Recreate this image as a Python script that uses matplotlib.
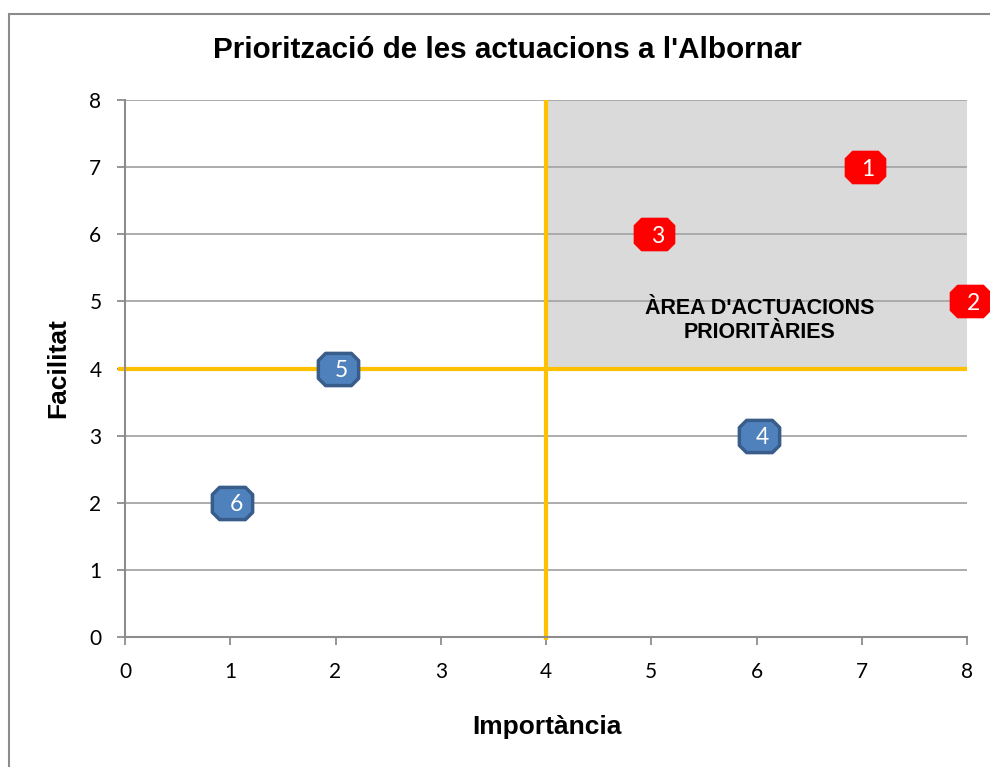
import matplotlib.pyplot as plt
from matplotlib.path import Path
from matplotlib.patches import Rectangle

# actuacions: (importància, facilitat)
labels = ["1", "2", "3", "4", "5", "6"]
importancia = [7, 8, 5, 6, 2, 1]
facilitat = [7, 5, 6, 3, 4, 2]
prioritaria = [True, True, True, False, False, False]

ticks = [0, 1, 2, 3, 4, 5, 6, 7, 8]
llindar = 4

fig = plt.figure(figsize=(9.9, 7.67), dpi=100)
ax = fig.add_axes([0.1263, 0.1695, 0.8505, 0.7001])

# outer chart border
fig.patches.append(Rectangle((9 / 990, -0.05), 1.1, 1 - 14 / 767 + 0.05,
                             transform=fig.transFigure, fill=False,
                             edgecolor="#8c8c8c", linewidth=1.5))

# priority area
ax.add_patch(Rectangle((llindar, llindar), 8 - llindar, 8 - llindar,
                       facecolor="#dadada", edgecolor="none", zorder=0.5))
ax.text(6.03, 4.72, "ÀREA D'ACTUACIONS\nPRIORITÀRIES", ha="center", va="center",
        fontsize=15.5, fontweight="bold", family="Liberation Sans",
        linespacing=1.2, zorder=3)

# grid
for t in ticks[1:]:
    ax.axhline(t, color="#a6a6a6", linewidth=1.3, zorder=1)

# threshold lines
ax.plot([llindar, llindar], [-0.04, 8], color="#ffc000", linewidth=3,
        zorder=2, clip_on=False, solid_capstyle="butt")
ax.plot([-0.07, 8], [llindar, llindar], color="#ffc000", linewidth=3,
        zorder=2, clip_on=False, solid_capstyle="butt")

# octagon marker, wider than tall
a = 0.36
octo = Path([(-1 + a, -0.8), (1 - a, -0.8), (1, -0.8 + a), (1, 0.8 - a),
             (1 - a, 0.8), (-1 + a, 0.8), (-1, 0.8 - a), (-1, -0.8 + a),
             (-1 + a, -0.8)], closed=True)

for lab, x, y, p in zip(labels, importancia, facilitat, prioritaria):
    if p:
        ax.plot(x + 0.03, y, marker=octo, markersize=29, color="#ff0000",
                markeredgecolor="#ff0000", zorder=4, clip_on=False)
    else:
        ax.plot(x + 0.02, y, marker=octo, markersize=29, color="#4f81bd",
                markeredgecolor="#385d8a", markeredgewidth=2.5, zorder=4,
                clip_on=False)
    ax.text(x + 0.06, y - 0.03, lab, color="white", fontsize=16.5,
            family="Lato", ha="center", va="center", zorder=5)

ax.set_xlim(0, 8)
ax.set_ylim(0, 8)
ax.set_xticks(ticks)
ax.set_yticks(ticks)
ax.tick_params(axis="both", direction="out", length=6, width=1.3,
               color="#8c8c8c", labelsize=15)
ax.tick_params(axis="x", pad=12)
ax.tick_params(axis="y", pad=11)
for lbl in ax.get_xticklabels() + ax.get_yticklabels():
    lbl.set_family("Lato")
for s in ["top", "right"]:
    ax.spines[s].set_visible(False)
for s in ["left", "bottom"]:
    ax.spines[s].set_color("#8c8c8c")
    ax.spines[s].set_linewidth(1.5)

fig.text(507 / 990, 1 - 50 / 767, "Priorització de les actuacions a l'Albornar",
         ha="center", va="center", fontsize=21.3, fontweight="bold",
         family="Liberation Sans")
fig.text(547 / 990, 1 - 727 / 767, "Importància", ha="center", va="center",
         fontsize=19, fontweight="bold", family="Liberation Sans")
fig.text(58 / 990, 1 - 368 / 767, "Facilitat", ha="center", va="center",
         rotation=90, fontsize=19, fontweight="bold", family="Liberation Sans")

fig.savefig("out.png", dpi=100)
